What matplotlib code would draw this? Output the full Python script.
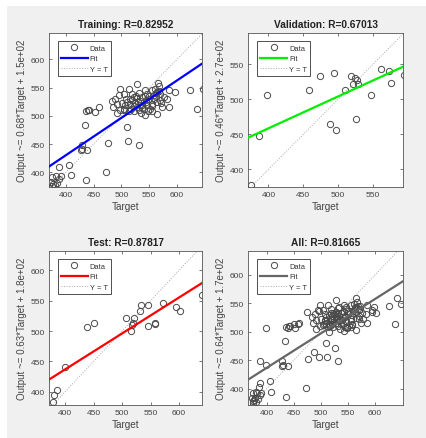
import matplotlib.pyplot as plt
from matplotlib.patches import Rectangle
from matplotlib.lines import Line2D

plt.rcParams['font.family'] = ['Liberation Sans', 'DejaVu Sans']

# 训练集 (target, output)
train_target = [565.5, 567.3, 561.3, 528.1, 497.9, 513.0, 543.2, 555.3, 564.3, 482.8,
                488.8, 496.1, 503.9, 508.1, 519.0, 522.0, 531.1, 537.1, 546.2, 549.2,
                558.3, 570.4, 576.4, 582.4, 585.5, 597.5, 624.7, 647.0, 485.8, 491.8,
                500.9, 506.9, 516.0, 522.0, 528.1, 534.1, 540.2, 546.2, 555.3, 564.3,
                570.4, 573.4, 585.5, 636.8, 491.8, 503.9, 513.0, 531.1, 543.2, 555.3,
                564.3, 510.0,
                517, 525, 533, 538, 545, 552, 558, 562, 568, 520, 510, 527, 542, 535, 548,
                515, 523, 530, 537, 550, 556, 563, 571, 505, 498, 529, 544,
                428.4, 429.6, 427.8, 438.7, 387.3, 405.4, 408.5, 435.6, 375.2, 381.3,
                390.3, 387.3, 372.2, 376.4, 380.1, 375.2, 384.3,
                434.4, 435.6, 440.5, 442.3, 452.5, 460.4, 472.5, 476.7, 511.7, 532.3]
train_output = [558.6, 552.7, 548.5, 556.2, 547.3, 547.3, 546.7, 546.7, 542.6, 526.6,
                530.8, 536.7, 538.4, 530.8, 539.6, 533.7, 540.8, 533.7, 539.6, 530.8,
                536.7, 538.4, 533.7, 530.8, 546.7, 542.6, 545.6, 548.5, 516.0, 520.7,
                523.1, 518.9, 521.9, 517.2, 516.0, 518.9, 513.0, 518.9, 521.9, 524.8,
                527.8, 516.0, 516.0, 513.0, 505.3, 511.2, 508.8, 510.0, 501.1, 508.8,
                502.9, 480.4,
                512, 522, 527, 520, 525, 512, 530, 540, 545, 528, 525, 535, 535, 505, 508,
                530, 509, 524, 514, 536, 518, 533, 522, 513, 510, 531, 528,
                447.9, 442.0, 439.0, 440.2, 409.5, 413.6, 394.6, 385.8, 391.7, 392.9,
                392.9, 388.7, 382.8, 379.9, 376.9, 375.1, 381.0,
                483.4, 508.8, 510.0, 510.0, 507.0, 515.3, 400.5, 452.6, 455.6, 449.0]

# 验证集
val_target = [375, 387, 398, 458, 474, 494, 488, 497, 510, 519,
              521, 525, 527, 529, 526, 548, 562, 573, 577, 595]
val_output = [378, 448, 507, 514, 534, 538, 465, 456, 513, 533,
              522, 531, 528, 522, 472, 507, 543, 540, 523, 535]

# 测试集
test_target = [378, 381, 385, 399, 439, 450, 507, 515, 517, 520,
               521, 532, 533, 545, 546, 557, 558, 572, 595, 601, 640]
test_output = [383, 394, 403, 441, 507, 513, 521, 500, 510, 513,
               521, 533, 543, 508, 543, 511, 513, 546, 539, 533, 559]

all_target = train_target + val_target + test_target
all_output = train_output + val_output + test_output

titles = ['Training: R=0.82952', 'Validation: R=0.67013', 'Test: R=0.87817', 'All: R=0.81665']
ylabels = ['Output ~= 0.68*Target + 1.5e+02', 'Output ~= 0.46*Target + 2.7e+02',
           'Output ~= 0.63*Target + 1.8e+02', 'Output ~= 0.64*Target + 1.7e+02']
fit_slope = [0.661, 0.4545, 0.592, 0.606]
fit_intercept = [166, 277, 200, 194]
fit_colors = ['#0000ff', '#00ee00', '#ff0000', '#666666']

fig = plt.figure(figsize=(4.27, 4.39), dpi=100, facecolor='white')
fig.patches.append(Rectangle((7 / 427, 0), 1, 1 - 7 / 439, transform=fig.transFigure,
                             facecolor='#f0f0f0', edgecolor='none', zorder=-10))

panels = [
    ([49.3 / 427, 0.5718, 153 / 427, 0.3508], train_target, train_output, (370, 646), (374, 647), [400, 450, 500, 550, 600], [400, 450, 500, 550, 600]),
    ([248.3 / 427, 0.5718, 155 / 427, 0.3508], val_target, val_output, (371, 594), (375, 595), [400, 450, 500, 550], [400, 450, 500, 550]),
    ([49.3 / 427, 0.0752, 153 / 427, 0.3508], test_target, test_output, (372, 641), (378, 632), [400, 450, 500, 550, 600], [400, 450, 500, 550, 600]),
    ([248.3 / 427, 0.0752, 155 / 427, 0.3508], all_target, all_output, (366, 652), (371, 642), [400, 450, 500, 550, 600], [400, 450, 500, 550, 600]),
]

for i, (pos, t, o, xl, yl, xt, yt) in enumerate(panels):
    ax = fig.add_axes(pos)
    ax.set_facecolor('white')
    # Y = T 参考线
    lo, hi = min(xl[0], yl[0]), max(xl[1], yl[1])
    ax.plot([lo, hi], [lo, hi], ls=':', color='#a8a8a8', lw=0.7, zorder=1)
    ax.plot(t, o, 'o', mfc='none', mec='#4a4a4a', ms=4.5, mew=0.7, zorder=2)
    xs = [xl[0], xl[1]]
    ax.plot(xs, [fit_slope[i] * x + fit_intercept[i] for x in xs], color=fit_colors[i], lw=1.6, zorder=3)
    ax.set_xlim(xl)
    ax.set_ylim(yl)
    ax.set_xticks(xt)
    ax.set_yticks(yt)
    ax.tick_params(direction='in', length=2, width=0.5, top=True, right=True,
                   labelsize=6, colors='#444444', pad=3)
    for s in ax.spines.values():
        s.set_color('#555555')
        s.set_linewidth(0.6)
    ax.set_title(titles[i], fontsize=7.3, fontweight='bold', color='#222222', pad=4)
    ax.set_xlabel('Target', fontsize=7.2, color='#444444', labelpad=2)
    ax.set_ylabel(ylabels[i], fontsize=7, color='#444444', labelpad=2.5)

    handles = [Line2D([], [], ls='none', marker='o', mfc='none', mec='#4a4a4a', ms=4.5, mew=0.7),
               Line2D([], [], color=fit_colors[i], lw=1.6),
               Line2D([], [], color='#a8a8a8', ls=':', lw=0.7)]
    leg = ax.legend(handles, ['Data', 'Fit', 'Y = T'], loc='upper left',
                    bbox_to_anchor=(0.055, 0.945), borderaxespad=0, fontsize=5.4,
                    fancybox=False, framealpha=1, edgecolor='#333333',
                    handlelength=3.7, handletextpad=0.2, labelspacing=0.45,
                    borderpad=0.38)
    leg.get_frame().set_linewidth(0.6)
    for txt in leg.get_texts():
        txt.set_color('#333333')

plt.savefig('out.png', dpi=100, facecolor=fig.get_facecolor())
plt.close()
